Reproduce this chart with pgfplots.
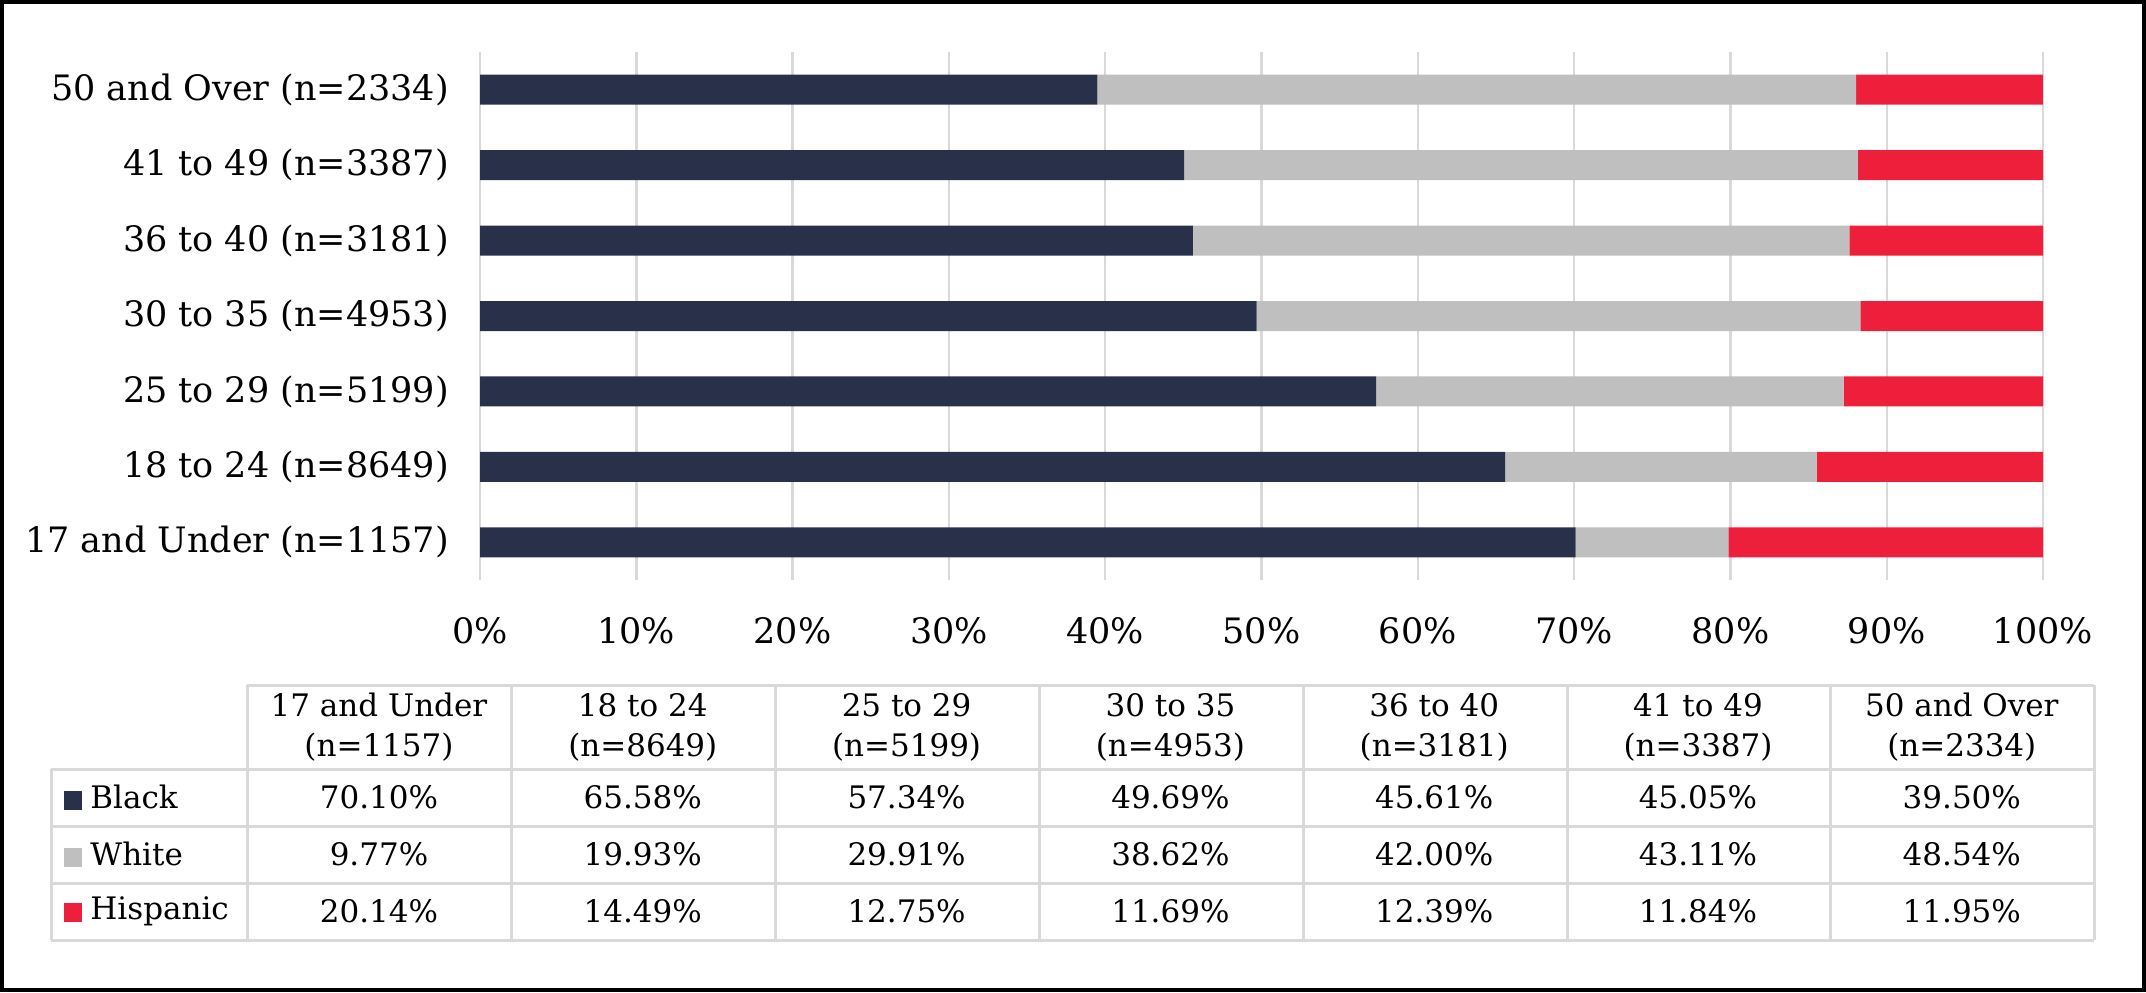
\documentclass[border=0pt]{standalone}
\usepackage{fontspec}
\setmainfont{DejaVu Serif}
\usepackage{pgfplots}
\pgfplotsset{compat=1.18}
\definecolor{cBlack}{HTML}{283149}
\definecolor{cWhite}{HTML}{BFBFBF}
\definecolor{cHisp}{HTML}{EE1F3B}
\definecolor{gridc}{HTML}{D9D9D9}

\begin{document}
\begin{tikzpicture}[x=1pt,y=1pt]
\useasboundingbox (0,0) rectangle (1073,496);
\draw[line width=2.2pt] (1.1,1.1) rectangle (1071.9,494.9);
\begin{axis}[
    at={(240pt,206pt)}, anchor=south west,
    scale only axis, width=781.5pt, height=264pt,
    xbar stacked, bar width=15pt,
    xmin=0, xmax=100, ymin=-0.5, ymax=6.5,
    xtick={0,10,...,100},
    xticklabel={\pgfmathprintnumber[assume math mode=true]{\tick}\%},
    ytick={0,...,6},
    yticklabels={17 and Under (n=1157), 18 to 24 (n=8649), 25 to 29 (n=5199),
        30 to 35 (n=4953), 36 to 40 (n=3181), 41 to 49 (n=3387), 50 and Over (n=2334)},
    axis line style={draw=none},
    major tick length=0pt,
    xmajorgrids, grid style={gridc, line width=1.2pt},
    tick label style={font=\fontsize{17.5}{21}\selectfont},
    xticklabel style={yshift=-15pt},
    yticklabel style={xshift=-12pt},
]
% Black
\addplot[fill=cBlack, draw=none] coordinates {(70.10,0) (65.58,1) (57.34,2) (49.69,3) (45.61,4) (45.05,5) (39.50,6)};
% White
\addplot[fill=cWhite, draw=none] coordinates {(9.77,0) (19.93,1) (29.91,2) (38.62,3) (42.00,4) (43.11,5) (48.54,6)};
% Hispanic
\addplot[fill=cHisp, draw=none] coordinates {(20.14,0) (14.49,1) (12.75,2) (11.69,3) (12.39,4) (11.84,5) (11.95,6)};
\end{axis}

% data table below the chart
\begin{scope}[font=\fontsize{15.5}{20}\selectfont]
\draw[gridc, line width=1.5pt] (123.5,153.5) -- (1047,153.5);
\foreach \y in {111.5,83,54.5,26} \draw[gridc, line width=1.5pt] (25.5,\y) -- (1047,\y);
\draw[gridc, line width=1.5pt] (25.5,111.5) -- (25.5,26);
\foreach \x in {123.5,255.5,387.5,519.5,651.5,783.5,915,1047}
    \draw[gridc, line width=1.5pt] (\x,153.5) -- (\x,26);
\foreach \h [count=\i from 0] in {17 and Under\\(n=1157), 18 to 24\\(n=8649), 25 to 29\\(n=5199),
        30 to 35\\(n=4953), 36 to 40\\(n=3181), 41 to 49\\(n=3387), 50 and Over\\(n=2334)}
    \node[align=center] at (189.5+131.9*\i,132.5) {\h};
\foreach \v [count=\i from 0] in {70.10,65.58,57.34,49.69,45.61,45.05,39.50}
    \node at (189.5+131.9*\i,97.25) {\v\%};
\foreach \v [count=\i from 0] in {9.77,19.93,29.91,38.62,42.00,43.11,48.54}
    \node at (189.5+131.9*\i,68.75) {\v\%};
\foreach \v [count=\i from 0] in {20.14,14.49,12.75,11.69,12.39,11.84,11.95}
    \node at (189.5+131.9*\i,40.25) {\v\%};
\node[anchor=west, inner sep=0pt] at (32,97.25) {\textcolor{cBlack}{\rule[-1pt]{9pt}{9.5pt}}\hspace{4pt}Black};
\node[anchor=west, inner sep=0pt] at (32,68.75) {\textcolor{cWhite}{\rule[-1pt]{9pt}{9.5pt}}\hspace{4pt}White};
\node[anchor=west, inner sep=0pt] at (32,40.25) {\textcolor{cHisp}{\rule[-1pt]{9pt}{9.5pt}}\hspace{4pt}Hispanic};
\end{scope}
\end{tikzpicture}
\end{document}
